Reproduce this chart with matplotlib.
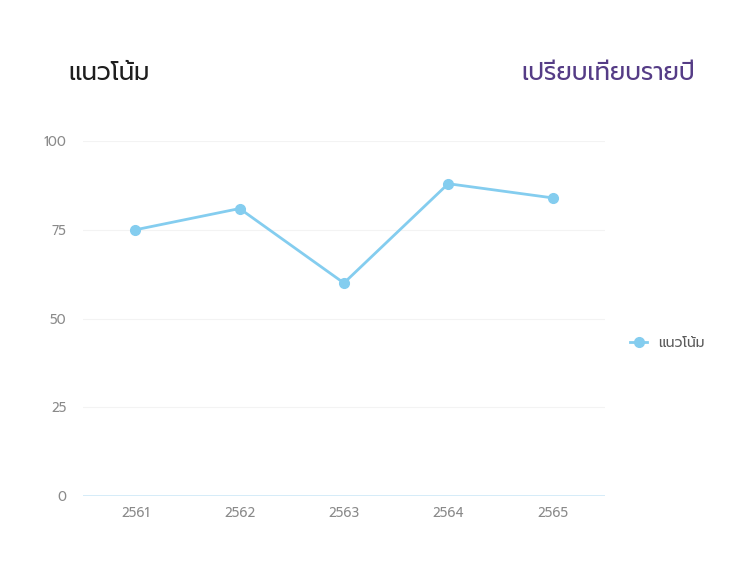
import matplotlib

matplotlib.use("Agg")
import matplotlib.pyplot as plt

years = ["2561", "2562", "2563", "2564", "2565"]
trend = [75, 81, 60, 88, 84]
y_ticks = [0, 25, 50, 75, 100]
title_left = "แนวโน้ม"
title_right = "เปรียบเทียบรายปี"
series_name = "แนวโน้ม"

plt.rcParams["font.family"] = ["Prompt", "Noto Sans Thai", "DejaVu Sans"]

fig = plt.figure(figsize=(7.42, 5.76), dpi=100)
ax = fig.add_axes([0.112, 0.139, 0.703, 0.616])

x = range(len(years))
ax.plot(x, trend, "-o", color="#84cdef", lw=2, ms=7, label=series_name)
ax.set_xlim(-0.5, len(years) - 0.5)
ax.set_ylim(0, 100)
ax.set_xticks(list(x), years)
ax.set_yticks(y_ticks)
ax.tick_params(length=0, colors="#8a8a8a", labelsize=9.5)
ax.tick_params(axis="x", pad=8)
ax.tick_params(axis="y", pad=12)
for s in ax.spines.values():
    s.set_visible(False)
ax.grid(True, axis="y", color="#f3f3f3", lw=0.8)
ax.axhline(0, color="#cfe9f7", lw=1.2)

fig.text(0.092, 0.872, title_left, fontsize=17.5, color="#1e1e1e", va="center")
fig.text(0.937, 0.872, title_right, fontsize=17.5, color="#553c86", ha="right", va="center")
ax.legend(loc="center left", bbox_to_anchor=(1.025, 0.43), frameon=False,
          fontsize=10, labelcolor="#5a5a5a", handlelength=1.2)

fig.savefig("out.png", dpi=100)
